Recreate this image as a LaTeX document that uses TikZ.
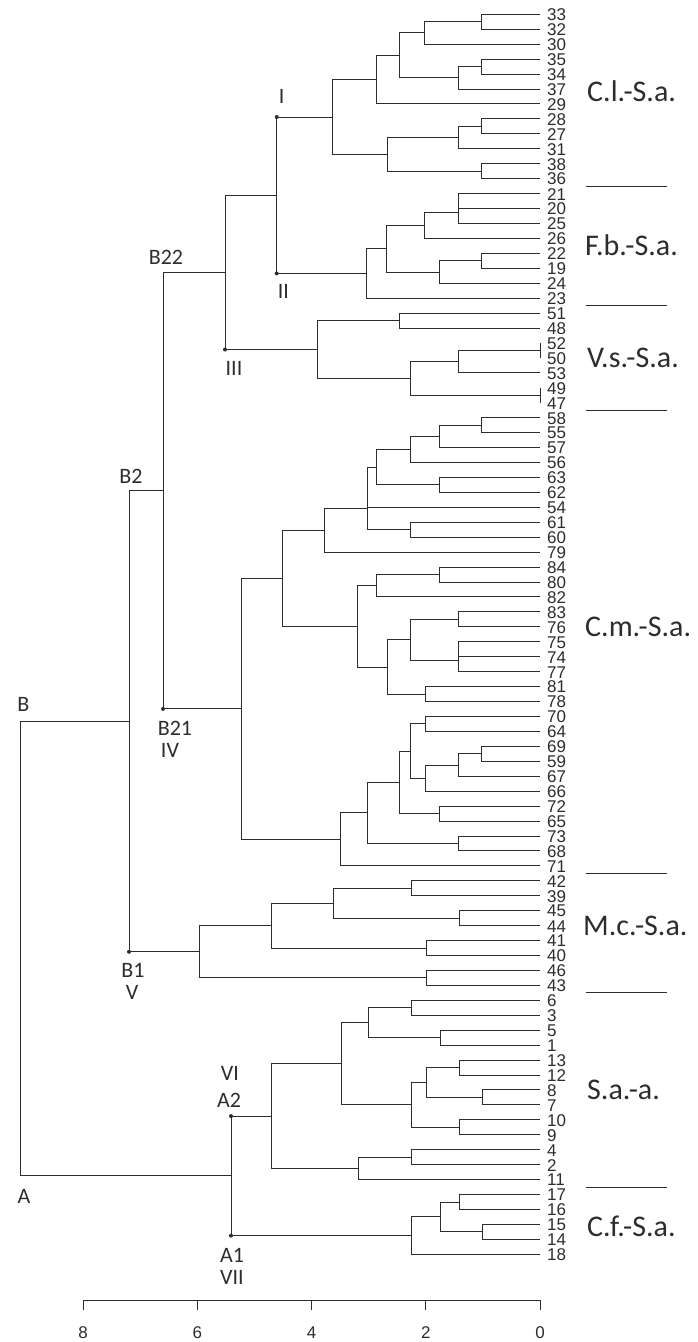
\documentclass[tikz,border=0pt]{standalone}
\usepackage{fontspec}
\setmainfont{Liberation Sans}
\newfontfamily\clbfont{Carlito}
\definecolor{ink}{RGB}{45,45,45}
\newcommand\mrg[5]{\draw[ln] (#4,{ly(#2)}) -- (#1,{ly(#2)}) -- (#1,{ly(#3)}) -- (#5,{ly(#3)});}
\begin{document}
\begin{tikzpicture}[x=1pt,y=-1pt,
  declare function={ly(\p)=14.3+14.94*\p;},
  ln/.style={draw=ink, line width=1pt, line join=miter},
  leaf/.style={anchor=west, inner sep=0pt, font=\fontsize{17}{17}\selectfont, text=ink},
  grp/.style={anchor=west, inner sep=0pt, font=\clbfont\fontsize{30}{30}\selectfont, text=ink},
  tag/.style={inner sep=0pt, font=\clbfont\fontsize{22}{22}\selectfont, text=ink},
  dot/.style={circle, fill=ink, inner sep=0pt, minimum size=4pt},
  sep/.style={draw=ink, line width=1pt}]
\fill[white] (0,0) rectangle (698,1342);
\useasboundingbox (0,0) rectangle (698,1342);
% leaf labels
\foreach \lab [count=\i from 0] in {33,32,30,35,34,37,29,28,27,31,38,36,21,20,25,26,22,19,24,23,51,48,52,50,53,49,47,58,55,57,56,63,62,54,61,60,79,84,80,82,83,76,75,74,77,81,78,70,64,69,59,67,66,72,65,73,68,71,42,39,45,44,41,40,46,43,6,3,5,1,13,12,8,7,10,9,4,2,11,17,16,15,14,18}
  \node[leaf] (l\i) at (547,{ly(\i)+0.5}) {\lab};
% C.l.-S.a.
\mrg{481.7}{0}{1}{540}{540}
\mrg{424.3}{0.5}{2}{481.7}{540}
\mrg{481.7}{3}{4}{540}{540}
\mrg{458.3}{3.5}{5}{481.7}{540}
\mrg{399}{1.25}{4.25}{424.3}{458.3}
\mrg{376.7}{2.75}{6}{399}{540}
\mrg{481.7}{7}{8}{540}{540}
\mrg{458.3}{7.5}{9}{481.7}{540}
\mrg{481.7}{10}{11}{540}{540}
\mrg{387.3}{8.25}{10.5}{458.3}{481.7}
\mrg{332.3}{4.375}{9.375}{376.7}{387.3}
% F.b.-S.a.
\mrg{458.3}{12}{13}{540}{540}
\mrg{458.3}{12.5}{14}{458.3}{540}
\mrg{424.3}{13.25}{15}{458.3}{540}
\mrg{481.7}{16}{17}{540}{540}
\mrg{439.3}{16.5}{18}{481.7}{540}
\mrg{386.7}{14.125}{17.25}{424.3}{439.3}
\mrg{366.7}{15.6875}{19}{386.7}{540}
% I + II
\mrg{276.7}{6.875}{17.34375}{332.3}{366.7}
% V.s.-S.a.
\mrg{399}{20}{21}{540}{540}
\mrg{540}{22}{23}{540}{540}
\mrg{458.3}{22.5}{24}{540}{540}
\mrg{540}{25}{26}{540}{540}
\mrg{410.7}{23.25}{25.5}{458.3}{540}
\mrg{317.3}{20.5}{24.375}{399}{410.7}
% B22
\mrg{225}{12.109375}{22.4375}{276.7}{317.3}
% C.m.-S.a. upper
\mrg{481.7}{27}{28}{540}{540}
\mrg{439.3}{27.5}{29}{481.7}{540}
\mrg{410.7}{28.25}{30}{439.3}{540}
\mrg{439.3}{31}{32}{540}{540}
\mrg{376.7}{29.125}{31.5}{410.7}{439.3}
\mrg{410.7}{34}{35}{540}{540}
\mrg{367.3}{30.3125}{34.5}{376.7}{410.7}
\draw[ln] (540,{ly(33)}) -- (367.3,{ly(33)});
\mrg{324}{33.078125}{36}{367.3}{540}
% C.m.-S.a. middle
\mrg{439.3}{37}{38}{540}{540}
\mrg{376.7}{37.5}{39}{439.3}{540}
\mrg{458.3}{40}{41}{540}{540}
\mrg{458.3}{42}{43}{540}{540}
\mrg{458.3}{42.5}{44}{458.3}{540}
\mrg{410}{40.5}{43.25}{458.3}{458.3}
\mrg{425}{45}{46}{540}{540}
\mrg{387.3}{41.875}{45.5}{410}{425}
\mrg{357.7}{38.25}{43.6875}{376.7}{387.3}
\mrg{282}{34.5390625}{40.96875}{324}{357.7}
% C.m.-S.a. lower
\mrg{425}{47}{48}{540}{540}
\mrg{481.7}{49}{50}{540}{540}
\mrg{458.3}{49.5}{51}{481.7}{540}
\mrg{425}{50.25}{52}{458.3}{540}
\mrg{410}{47.5}{51.125}{425}{425}
\mrg{439.5}{53}{54}{540}{540}
\mrg{399}{49.3125}{53.5}{410}{439.5}
\mrg{458.4}{55}{56}{540}{540}
\mrg{367.3}{51.40625}{55.5}{399}{458.4}
\mrg{340.6}{53.453125}{57}{367.3}{540}
% B21
\mrg{241.3}{37.75390625}{55.2265625}{282}{340.6}
% B2
\mrg{163}{17.2734375}{46.490234375}{225}{241.3}
% M.c.-S.a.
\mrg{411}{58}{59}{540}{540}
\mrg{459}{60}{61}{540}{540}
\mrg{333}{58.5}{60.5}{411}{459}
\mrg{426}{62}{63}{540}{540}
\mrg{271}{59.5}{62.5}{333}{426}
\mrg{426}{64}{65}{540}{540}
\mrg{199}{61}{64.5}{271}{426}
% B
\mrg{129}{31.8818359375}{62.75}{163}{199}
% S.a.-a.
\mrg{411}{66}{67}{540}{540}
\mrg{440}{68}{69}{540}{540}
\mrg{368.5}{66.5}{68.5}{411}{440}
\mrg{459}{70}{71}{540}{540}
\mrg{482.6}{72}{73}{540}{540}
\mrg{426}{70.5}{72.5}{459}{482.6}
\mrg{459}{74}{75}{540}{540}
\mrg{411}{71.5}{74.5}{426}{459}
\mrg{341}{67.5}{73}{368.5}{411}
\mrg{411}{76}{77}{540}{540}
\mrg{358.8}{76.5}{78}{411}{540}
\mrg{271}{70.25}{77.25}{341}{358.8}
% C.f.-S.a.
\mrg{459}{79}{80}{540}{540}
\mrg{482.6}{81}{82}{540}{540}
\mrg{440}{79.5}{81.5}{459}{482.6}
\mrg{411}{80.5}{83}{440}{540}
% A
\mrg{231}{73.75}{81.75}{271}{411}
% root
\mrg{20}{47.31591796875}{77.75}{129}{231}
% dots
\node[dot] (nI) at (276.7,{ly(6.875)}) {};
\node[dot] (nII) at (276.7,{ly(17.34375)}) {};
\node[dot] (nIII) at (225,{ly(22.4375)}) {};
\node[dot] (nB21) at (163,{ly(46.490234375)}) {};
\node[dot] (nB1) at (129,{ly(62.75)}) {};
\node[dot] (nA2) at (231,{ly(73.75)}) {};
\node[dot] (nA1) at (231,{ly(81.75)}) {};
% tags
\node[tag] (tI) at (281.7,96.7) {I};
\node[tag] (tII) at (283.3,291.7) {II};
\node[tag] (tIII) at (234,368) {III};
\node[tag] (tB22) at (166,257) {B22};
\node[tag] (tB2) at (131,476) {B2};
\node[tag] (tB) at (23.3,704.3) {B};
\node[tag] (tB21) at (175,728.3) {B21};
\node[tag] (tIV) at (170,750) {IV};
\node[tag] (tB1) at (133,970) {B1};
\node[tag] (tV) at (132,992.7) {V};
\node[tag] (tVI) at (230,1073) {VI};
\node[tag] (tA2) at (229,1100) {A2};
\node[tag] (tA) at (24,1196.7) {A};
\node[tag] (tA1) at (232,1255) {A1};
\node[tag] (tVII) at (232,1277) {VII};
% group labels
\node[grp] (gCl) at (587,90.7) {C.l.-S.a.};
\node[grp] (gFb) at (585,245) {F.b.-S.a.};
\node[grp] (gVs) at (587,358.3) {V.s.-S.a.};
\node[grp] (gCm) at (585,626.7) {C.m.-S.a.};
\node[grp] (gMc) at (583,925.5) {M.c.-S.a.};
\node[grp] (gSa) at (587,1089.7) {S.a.-a.};
\node[grp] (gCf) at (587,1226.5) {C.f.-S.a.};
% separators
\foreach \p in {11.5,19.5,26.5,57.5,65.5,78.5}
  \draw[sep] (586,{ly(\p)}) -- (667,{ly(\p)});
% axis
\draw[ln] (83,1310) -- (83,1300) -- (540,1300) -- (540,1310);
\foreach \xx/\t in {83/8,197.25/6,311.5/4,425.75/2,540/0} {
  \draw[ln] (\xx,1300) -- (\xx,1310);
  \node[leaf,anchor=center] (ax\t) at (\xx,1333) {\t};
}
\end{tikzpicture}
\end{document}
